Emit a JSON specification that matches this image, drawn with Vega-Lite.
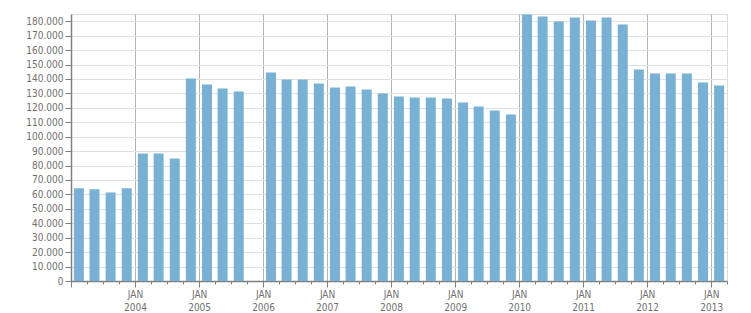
{
  "$schema": "https://vega.github.io/schema/vega-lite/v6.json",
  "autosize": "none",
  "width": 656,
  "height": 267,
  "padding": {"left": 71, "top": 14, "right": 23, "bottom": 32},
  "background": "white",
  "config": {
    "view": {"stroke": "#dcdcdc", "strokeWidth": 1},
    "axis": {
      "labelFont": "DejaVu Sans Condensed",
      "labelFontSize": 10,
      "labelColor": "#707070",
      "domainColor": "#808080",
      "tickColor": "#808080"
    }
  },
  "data": {
    "values": [
      {"date": "2003/02/15", "value": 64200},
      {"date": "2003/05/15", "value": 63500},
      {"date": "2003/08/15", "value": 61400},
      {"date": "2003/11/15", "value": 64200},
      {"date": "2004/02/15", "value": 88400},
      {"date": "2004/05/15", "value": 88400},
      {"date": "2004/08/15", "value": 84900},
      {"date": "2004/11/15", "value": 140300},
      {"date": "2005/02/15", "value": 136100},
      {"date": "2005/05/15", "value": 133400},
      {"date": "2005/08/15", "value": 131300},
      {"date": "2006/02/15", "value": 144400},
      {"date": "2006/05/15", "value": 139600},
      {"date": "2006/08/15", "value": 139600},
      {"date": "2006/11/15", "value": 136800},
      {"date": "2007/02/15", "value": 134100},
      {"date": "2007/05/15", "value": 134800},
      {"date": "2007/08/15", "value": 132700},
      {"date": "2007/11/15", "value": 129900},
      {"date": "2008/02/15", "value": 127800},
      {"date": "2008/05/15", "value": 127100},
      {"date": "2008/08/15", "value": 127100},
      {"date": "2008/11/15", "value": 126500},
      {"date": "2009/02/15", "value": 123700},
      {"date": "2009/05/15", "value": 120900},
      {"date": "2009/08/15", "value": 118200},
      {"date": "2009/11/15", "value": 115400},
      {"date": "2010/02/15", "value": 184600},
      {"date": "2010/05/15", "value": 183200},
      {"date": "2010/08/15", "value": 179800},
      {"date": "2010/11/15", "value": 182500},
      {"date": "2011/02/15", "value": 180500},
      {"date": "2011/05/15", "value": 182500},
      {"date": "2011/08/15", "value": 177700},
      {"date": "2011/11/15", "value": 146500},
      {"date": "2012/02/15", "value": 143800},
      {"date": "2012/05/15", "value": 143800},
      {"date": "2012/08/15", "value": 143800},
      {"date": "2012/11/15", "value": 137600},
      {"date": "2013/02/15", "value": 135500}
    ]
  },
  "mark": {"type": "bar", "width": 10, "color": "#78b1d4"},
  "encoding": {
    "x": {
      "field": "date",
      "type": "temporal",
      "title": null,
      "scale": {
        "domain": [
          {"year": 2003, "month": 1, "date": 1},
          {"year": 2013, "month": 4, "date": 1}
        ],
        "nice": false,
        "padding": 0
      },
      "axis": {
        "tickCount": {"interval": "month", "step": 3},
        "labelExpr": "month(datum.value) == 0 && year(datum.value) > 2003 ? ['JAN', timeFormat(datum.value, '%Y')] : ''",
        "labelOverlap": false,
        "labelFlush": false,
        "labelPadding": 2,
        "labelLineHeight": 13,
        "labelBaseline": "top",
        "domainWidth": 1.5,
        "tickSize": {"condition": {"test": "month(datum.value) == 0", "value": 6}, "value": 3},
        "grid": true,
        "gridColor": "#b4b4b4",
        "gridOpacity": {"condition": {"test": "month(datum.value) == 0", "value": 1}, "value": 0}
      }
    },
    "y": {
      "field": "value",
      "type": "quantitative",
      "title": null,
      "scale": {"domain": [0, 185000], "nice": false},
      "axis": {
        "values": [0, 10000, 20000, 30000, 40000, 50000, 60000, 70000, 80000, 90000, 100000, 110000, 120000, 130000, 140000, 150000, 160000, 170000, 180000],
        "labelExpr": "replace(format(datum.value, ','), ',', '.')",
        "labelPadding": 2,
        "tickSize": 6,
        "domainWidth": 1.5,
        "gridColor": "#e0e0e0",
        "labelFlush": false
      }
    }
  }
}
